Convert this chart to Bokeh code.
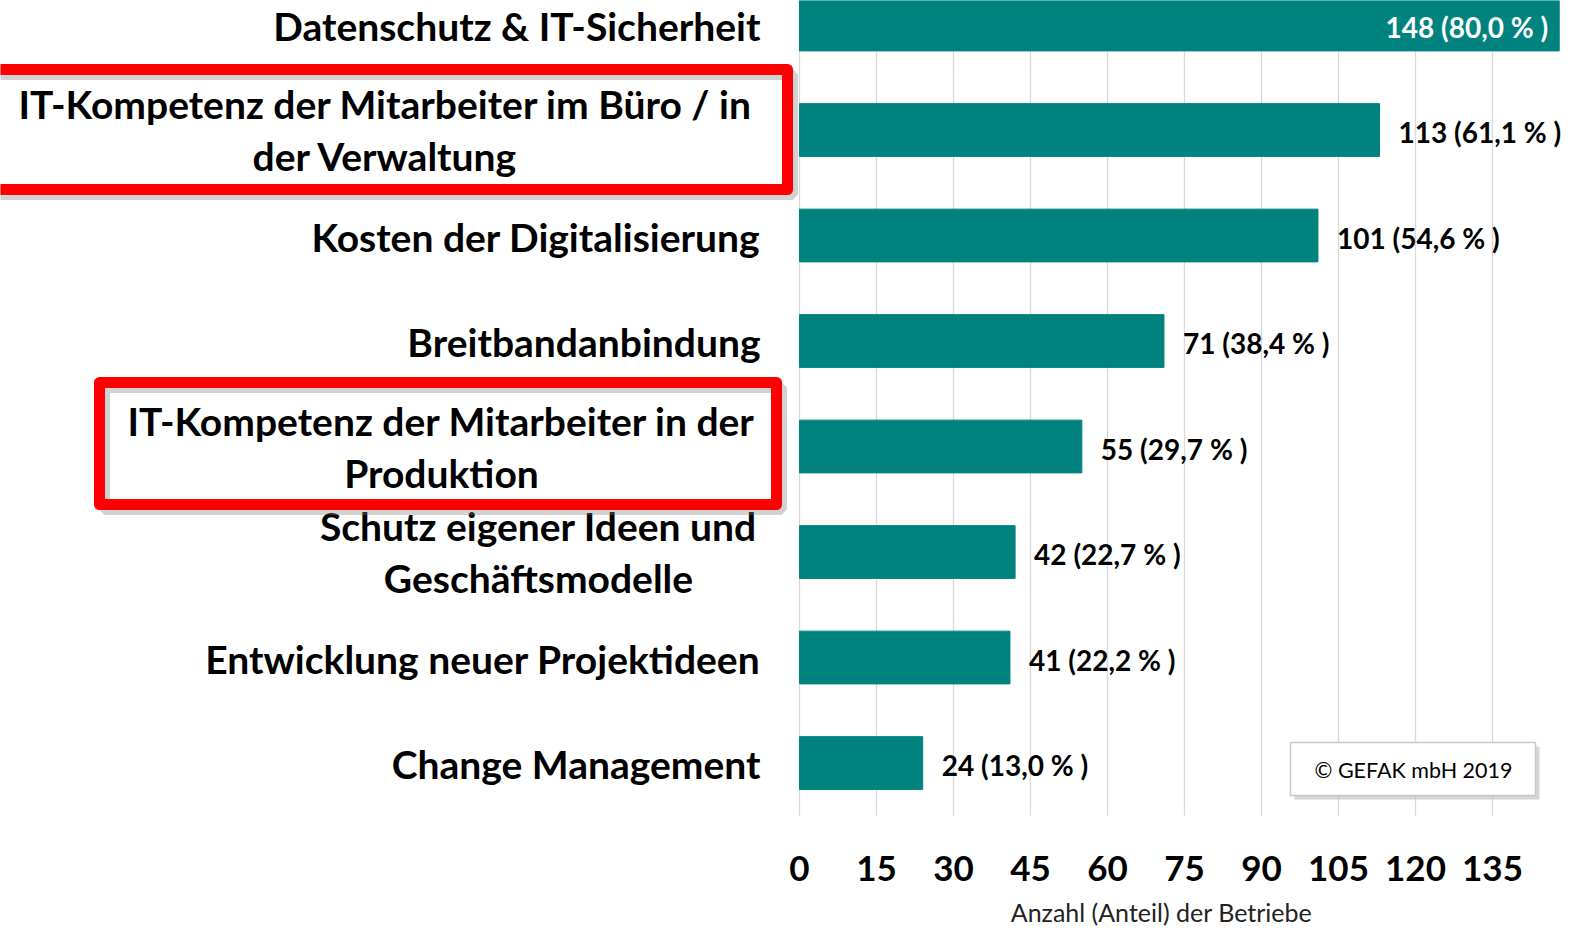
from bokeh.plotting import figure
from bokeh.models import Range1d
from bokeh.core.properties import value
from bokeh.embed import file_html
from bokeh.resources import INLINE

# ---------------- data ----------------
categories = [
    "Datenschutz & IT-Sicherheit",
    "IT-Kompetenz der Mitarbeiter im Büro / in\nder Verwaltung",
    "Kosten der Digitalisierung",
    "Breitbandanbindung",
    "IT-Kompetenz der Mitarbeiter in der\nProduktion",
    "Schutz eigener Ideen und\nGeschäftsmodelle",
    "Entwicklung neuer Projektideen",
    "Change Management",
]
counts = [148, 113, 101, 71, 55, 42, 41, 24]
shares = [80.0, 61.1, 54.6, 38.4, 29.7, 22.7, 22.2, 13.0]
highlighted = [1, 4]
x_ticks = [0, 15, 30, 45, 60, 75, 90, 105, 120, 135]
axis_title = "Anzahl (Anteil) der Betriebe"
copyright_text = "© GEFAK mbH 2019"

# ---------------- layout constants ----------------
W, H = 1571, 928
X0 = 799.0        # canvas px of value 0
S = 5.1333        # px per unit
Y0 = 24.0         # canvas px of first bar centre
DY = 105.5        # px per category
FONT = "Lato"
TEAL = "#00827F"


def px_x(px):
    return (px - X0) / S


def px_y(py):
    return (py - Y0) / DY


p = figure(width=W, height=H, output_backend="svg", toolbar_location=None,
           x_range=Range1d(-X0 / S, (W - X0) / S),
           y_range=Range1d((H - Y0) / DY, -Y0 / DY),
           x_axis_type=None, y_axis_type=None, min_border=0,
           outline_line_color=None, background_fill_color="white",
           border_fill_color="white")
p.xgrid.visible = False
p.ygrid.visible = False

idx = list(range(len(categories)))

# grid lines
p.segment(x0=x_ticks, y0=[-0.6] * len(x_ticks), x1=x_ticks, y1=[px_y(815)] * len(x_ticks),
          line_color="#d9d9d9", line_width=1.3)

# bars
p.hbar(y=idx, left=0, right=counts, height=0.5, fill_color=TEAL, line_color=TEAL)

# value labels
vmax = max(counts)
val_text = [f"{c} ({s:.1f} % )".replace(".", ",") for c, s in zip(counts, shares)]
inside = [c == vmax for c in counts]
p.text(x=counts, y=[i + 2 / DY for i in idx], text=val_text,
       x_offset=[-11 if f else 19 for f in inside],
       text_align=["right" if f else "left" for f in inside],
       text_color=["white" if f else "black" for f in inside],
       text_baseline="middle", text_font=value(FONT), text_font_style="bold",
       text_font_size="28px")

# category labels
single_x, single_y, single_t = [], [], []
multi_x, multi_y, multi_t = [], [], []
centers_px = {1: 385, 4: 441, 5: 538}
for i, cat in enumerate(categories):
    lines = cat.split("\n")
    if len(lines) == 1:
        single_x.append(px_x(760)); single_y.append(i + 1 / DY); single_t.append(cat)
    else:
        for k, ln in enumerate(lines):
            multi_x.append(px_x(centers_px[i]))
            multi_y.append(i + (k - (len(lines) - 1) / 2) * 52 / DY)
            multi_t.append(ln)
p.text(x=single_x, y=single_y, text=single_t, text_align="right", text_baseline="middle",
       text_font=value(FONT), text_font_style="bold", text_font_size="39px", text_color="black")
p.text(x=multi_x, y=multi_y, text=multi_t, text_align="center", text_baseline="middle",
       text_font=value(FONT), text_font_style="bold", text_font_size="39px", text_color="black")

# highlight boxes (shadow + red frame)
box_l = {1: px_x(-12), 4: px_x(99)}
box_r = {1: px_x(787), 4: px_x(776)}
box_t = {1: px_y(69), 4: px_y(382)}
box_b = {1: px_y(189), 4: px_y(504)}
hl = [box_l[i] for i in highlighted]
hr = [box_r[i] for i in highlighted]
ht = [box_t[i] for i in highlighted]
hb = [box_b[i] for i in highlighted]
p.quad(left=[v + 5 / S for v in hl], right=[v + 5 / S for v in hr],
       top=[v + 5 / DY for v in ht], bottom=[v + 5 / DY for v in hb],
       fill_color=None, line_color="#7f7f7f", line_alpha=0.35, line_width=11)
p.quad(left=hl, right=hr, top=ht, bottom=hb, fill_color=None,
       line_color="#ff0000", line_width=11, line_join="round")

# tick labels
p.text(x=x_ticks, y=[px_y(868)] * len(x_ticks), text=[str(t) for t in x_ticks],
       text_align="center", text_baseline="middle", text_font=value(FONT),
       text_font_style="bold", text_font_size="35px", text_color="black")

# axis title
p.text(x=[px_x(1161)], y=[px_y(911)], text=[axis_title], text_align="center",
       text_baseline="middle", text_font=value(FONT), text_font_size="25px",
       text_color="#222222")

# copyright box
p.quad(left=[px_x(1294)], right=[px_x(1539)], top=[px_y(746)], bottom=[px_y(799)],
       fill_color="#bbbbbb", fill_alpha=0.6, line_color=None)
p.quad(left=[px_x(1290)], right=[px_x(1535)], top=[px_y(742)], bottom=[px_y(795)],
       fill_color="white", line_color="#c8c8c8", line_width=1.5)
p.text(x=[px_x(1413)], y=[px_y(769)], text=[copyright_text], text_align="center",
       text_baseline="middle", text_font=value(FONT), text_font_size="21.5px",
       text_color="black")

open("out.html", "w").write(file_html(p, INLINE))
